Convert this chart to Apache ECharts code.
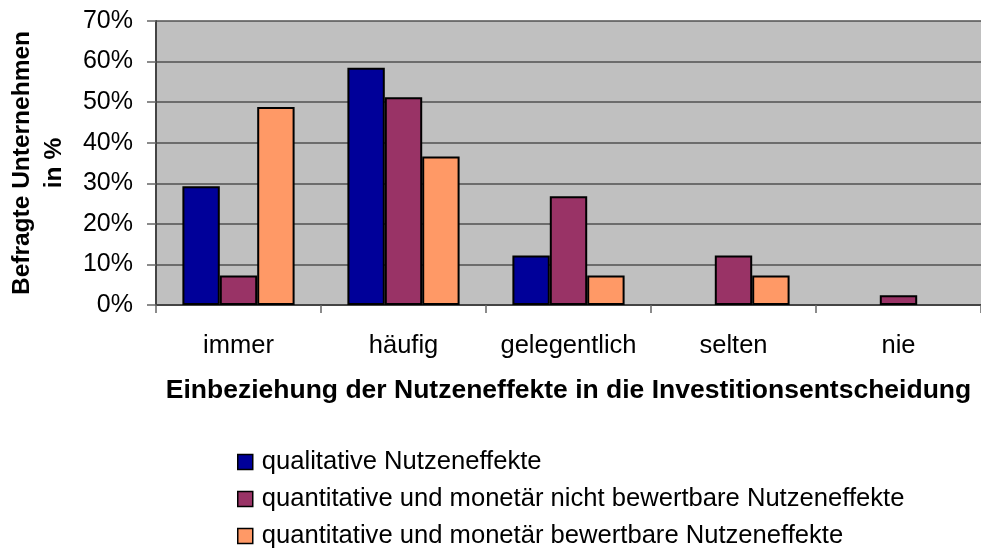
<!DOCTYPE html>
<html>
<head>
<meta charset="utf-8">
<script src="https://cdn.jsdelivr.net/npm/echarts@6/dist/echarts.min.js"></script>
<style>
  html, body { margin: 0; padding: 0; background: #fff; }
  #charts { width: 981px; height: 559px; }
</style>
</head>
<body>
<div id="charts"></div>
<script>
// Kategorien und Werte (in %), '-' = kein Balken
var categories = ['immer', 'häufig', 'gelegentlich', 'selten', 'nie'];
var seriesNames = [
    'qualitative Nutzeneffekte',
    'quantitative und monetär nicht bewertbare Nutzeneffekte',
    'quantitative und monetär bewertbare Nutzeneffekte'
];
var qualitativ = [29.3, 58.5, 12.2, '-', '-'];
var nichtBewertbar = [7.3, 51.2, 26.8, 12.2, 2.4];
var bewertbar = [48.8, 36.6, 7.3, 7.3, '-'];
var colors = ['#000099', '#993366', '#ff9966'];

var font = 'Liberation Sans, Arial, sans-serif';
var myChart = echarts.init(document.getElementById('charts'));

var seriesData = [qualitativ, nichtBewertbar, bewertbar];
var series = [];
for (var i = 0; i < seriesData.length; i++) {
    series.push({
        name: seriesNames[i],
        type: 'bar',
        data: seriesData[i],
        barGap: '0%',
        barCategoryGap: '32%',
        itemStyle: { color: colors[i], borderColor: '#000', borderWidth: 2 }
    });
}

var option = {
    animation: false,
    textStyle: { fontFamily: font },
    grid: {
        left: 156, top: 21, right: 0, bottom: 254,
        containLabel: false,
        outerBoundsMode: 'none',
        show: true, backgroundColor: '#c0c0c0', borderWidth: 0
    },
    legend: {
        orient: 'vertical',
        left: 237, top: 449,
        padding: 0,
        itemWidth: 15, itemHeight: 15, itemGap: 11,
        icon: 'rect',
        textStyle: { fontSize: 25.6, color: '#000', fontFamily: font, padding: [0, 0, 0, 4] },
        itemStyle: { borderColor: '#000', borderWidth: 1.5 },
        data: seriesNames
    },
    xAxis: {
        type: 'category',
        data: categories,
        name: 'Einbeziehung der Nutzeneffekte in die Investitionsentscheidung',
        nameLocation: 'middle',
        nameGap: 72,
        nameTextStyle: { fontSize: 26.5, fontWeight: 'bold', color: '#000' },
        axisLine: { lineStyle: { color: '#444', width: 2 } },
        axisTick: { show: true, length: 8, lineStyle: { color: '#666', width: 1.5 } },
        axisLabel: { fontSize: 25.5, color: '#000', margin: 28, interval: 0 }
    },
    yAxis: {
        type: 'value',
        min: 0, max: 70, interval: 10,
        name: 'Befragte Unternehmen\nin %',
        nameLocation: 'middle',
        nameRotate: 90,
        nameGap: 86,
        nameTextStyle: { fontSize: 24.5, fontWeight: 'bold', color: '#000', lineHeight: 32 },
        axisLine: { show: true, lineStyle: { color: '#444', width: 2 } },
        axisTick: { show: true, length: 9, lineStyle: { color: '#666', width: 1.5 } },
        axisLabel: { fontSize: 25, color: '#000', margin: 23, formatter: '{value}%' },
        splitLine: { show: true, lineStyle: { color: '#505050', width: 1.5 } }
    },
    series: series
};

myChart.setOption(option);
</script>
</body>
</html>
